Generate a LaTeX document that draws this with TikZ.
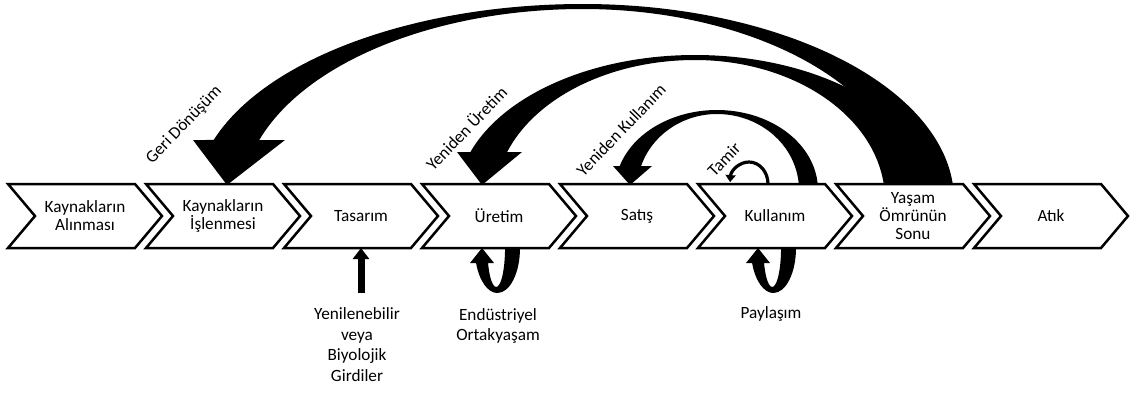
\documentclass[tikz,border=0pt]{standalone}
\usepackage{fontspec}
\setmainfont{Carlito}
\usetikzlibrary{calc,arrows.meta}
\newcommand{\chevfont}{\fontsize{17.2}{18}\selectfont}
\newcommand{\belowfont}{\fontsize{17.2}{20.5}\selectfont}
\tikzset{
  chevst/.style={fill=white, draw=black, line width=2.5pt, line join=miter},
  cbox/.style={minimum width=154pt, minimum height=64pt, inner sep=0pt, outer sep=0pt, align=center, font=\chevfont},
  lbl/.style={inner sep=0pt, align=center, font=\chevfont},
  lbltwo/.style={inner sep=0pt, align=center, font=\belowfont},
  band/.style={fill=black},
}
\newcommand{\chev}[3]{%
  \filldraw[chevst] (#2,-184) -- ++(127,0) -- ++(27,-32) -- ++(-27,-32) -- ++(-127,0) -- ++(27,32) -- cycle;
  \node[cbox] (#1) at ({#2+77},-216) {#3};
}
\newcommand{\loopup}[1]{%
  \fill[band] ({#1+38},-248) arc[start angle=0, end angle=-160.53, x radius=22.6pt, y radius=45pt]
    -- ({#1-12},-263) -- (#1,-248) -- ({#1+12},-263) -- ({#1+6.04},-263)
    arc[start angle=-157.38, end angle=0, x radius=8.84pt, y radius=39pt] -- cycle;
}
\begin{document}
\begin{tikzpicture}[x=1pt,y=1pt]
\useasboundingbox (0,0) rectangle (1134,-392);
% Geri Donusum band
\fill[band] ($(583,-200)+(-8:371pt and 196pt)$)
  arc[start angle=-8, end angle=90, x radius=371pt, y radius=196pt]
  arc[start angle=90, end angle=162.17, x radius=388pt, y radius=196pt]
  -- (193,-140) -- (227,-185) -- (285,-140)
  -- ($(583,-200)+(161.69:341pt and 191pt)$)
  arc[start angle=161.69, end angle=90, x radius=341pt, y radius=191pt]
  arc[start angle=90, end angle=-8, x radius=325pt, y radius=191pt] -- cycle;
% Yeniden Uretim band
\fill[band] ($(695,-200)+(-8:240pt and 145pt)$)
  arc[start angle=-8, end angle=90, x radius=240pt, y radius=145pt]
  arc[start angle=90, end angle=160.67, x radius=238pt, y radius=145pt]
  -- (457,-152) -- (482,-185) -- (522,-152)
  -- ($(695,-200)+(159.95:200pt and 140pt)$)
  arc[start angle=159.95, end angle=90, x radius=200pt, y radius=140pt]
  arc[start angle=90, end angle=-8, x radius=190pt, y radius=140pt] -- cycle;
% Yeniden Kullanim band
\fill[band] ($(717,-190)+(-10:101pt and 80pt)$)
  arc[start angle=-10, end angle=90, x radius=101pt, y radius=80pt]
  arc[start angle=90, end angle=162.54, x radius=102pt, y radius=80pt]
  -- (613,-166) -- (630,-185) -- (652,-166)
  -- ($(717,-190)+(161.59:80pt and 76pt)$)
  arc[start angle=161.59, end angle=90, x radius=80pt, y radius=76pt]
  arc[start angle=90, end angle=-10, x radius=82pt, y radius=76pt] -- cycle;
% chevrons
\chev{c1}{8}{Kaynakların\\Alınması}
\chev{c2}{146}{Kaynakların\\İşlenmesi}
\chev{c3}{284}{Tasarım}
\chev{c4}{422}{Üretim}
\chev{c5}{560}{Satış}
\chev{c6}{698}{Kullanım}
\chev{c7}{836}{Yaşam\\Ömrünün\\Sonu}
\chev{c8}{974}{Atık}
% Tamir loop
\draw[line width=3.2pt, -{Triangle[width=10pt,length=7pt]}] ($(c6.north)+(-7,0)$)
  arc[start angle=0, end angle=175, x radius=19pt, y radius=22pt];
% bottom loops
\loopup{482}
\loopup{758}
% input arrow
\coordinate (inp) at ($(c3.south)+(0,-45)$);
\draw[line width=7pt, -{Triangle[width=16pt,length=11pt]}] (inp) -- (c3.south);
% labels
\node[lbl, rotate=46] (geri) at (184,-125) {Geri Dönüşüm};
\node[lbl, rotate=46] (yu) at (466,-128) {Yeniden Üretim};
\node[lbl, rotate=46] (yk) at (621,-130) {Yeniden Kullanım};
\node[lbl, rotate=46] (tam) at (724,-159) {Tamir};
\node[lbltwo, anchor=north] (ren) at (357,-307.5) {Yenilenebilir\\veya\\Biyolojik\\Girdiler};
\node[lbltwo, anchor=north] (endu) at (498,-308) {Endüstriyel\\Ortakyaşam};
\node[lbltwo, anchor=north] (pay) at (771,-306) {Paylaşım};
\end{tikzpicture}
\end{document}
